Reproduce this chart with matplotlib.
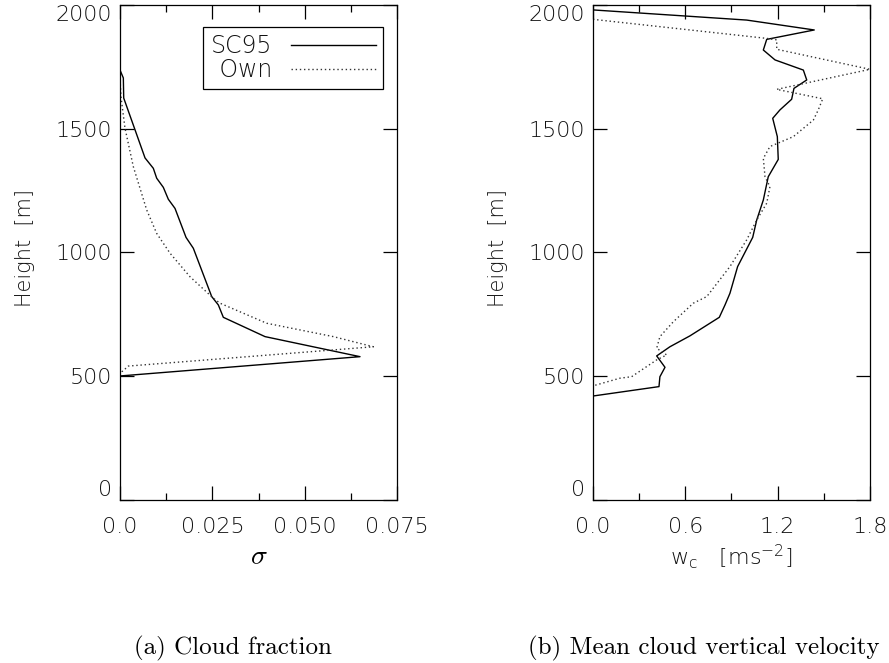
import matplotlib
matplotlib.use("Agg")
from matplotlib import pyplot as plt

# 数据 (a) cloud fraction
sig_h_sc95 = [2000, 1737, 1705, 1624, 1382, 1340, 1300, 1263, 1215, 1178, 1061, 1017,
              822, 788, 738, 660, 579, 501, 470, 0]
sig_sc95 = [0.0, 0.0, 0.0009, 0.001, 0.00677, 0.00902, 0.00993, 0.01173, 0.01308, 0.01489,
            0.01787, 0.01985, 0.02482, 0.02662, 0.02797, 0.03926, 0.06498, 0.0, 0.0, 0.0]
sig_h_own = [2000, 1700, 1624, 1502, 1347, 1172, 1077, 997, 902, 815, 795, 714, 660, 619,
             541, 518, 505, 0]
sig_own = [0.0, 0.0, 0.0003, 0.00135, 0.0036, 0.00722, 0.00993, 0.01354, 0.01895, 0.02527,
           0.02708, 0.03971, 0.05776, 0.0686, 0.00226, 0.0005, 0.0, 0.0]

# 数据 (b) mean cloud vertical velocity
w_h_sc95 = [1980, 1939, 1899, 1861, 1818, 1778, 1737, 1697, 1663, 1619, 1576, 1542, 1468,
            1376, 1306, 1212, 1131, 1061, 943, 835, 788, 738, 663, 619, 582, 536, 498, 458,
            420, 0]
w_sc95 = [0.0, 0.999, 1.438, 1.129, 1.107, 1.183, 1.367, 1.389, 1.306, 1.291, 1.215, 1.168,
          1.198, 1.204, 1.139, 1.107, 1.064, 1.038, 0.940, 0.890, 0.858, 0.821, 0.630, 0.500,
          0.414, 0.468, 0.435, 0.429, 0.0, 0.0]
w_h_own = [1942, 1865, 1859, 1821, 1740, 1659, 1621, 1576, 1535, 1468, 1428, 1380, 1306,
           1266, 1199, 1131, 1051, 943, 822, 795, 720, 660, 613, 586, 566, 498, 492, 461, 0]
w_own = [0.0, 1.129, 1.194, 1.194, 1.8, 1.194, 1.493, 1.464, 1.432, 1.302, 1.150, 1.107,
         1.118, 1.150, 1.129, 1.064, 0.999, 0.890, 0.740, 0.652, 0.522, 0.435, 0.414, 0.479,
         0.414, 0.251, 0.175, 0.0, 0.0]

sig_ticks = [0.0, 0.025, 0.050, 0.075]
sig_labels = ["0.0", "0.025", "0.050", "0.075"]
w_ticks = [0.0, 0.6, 1.2, 1.8]
w_labels = ["0.0", "0.6", "1.2", "1.8"]
h_ticks = [0, 500, 1000, 1500, 2000]

plt.rcParams["font.family"] = ["DejaVu Sans"]
plt.rcParams["font.size"] = 16
plt.rcParams["font.weight"] = 200
plt.rcParams["axes.labelweight"] = 200

txt = "#111111"
fig = plt.figure(figsize=(8.89, 6.63), dpi=100)
ax1 = fig.add_axes([0.135, 0.2459, 0.3116, 0.7466])
ax2 = fig.add_axes([0.667, 0.2459, 0.3116, 0.7466])

dot = (0, (1, 2))
ax1.plot(sig_sc95, sig_h_sc95, color="black", lw=1.0, label="SC95")
ax1.plot(sig_own, sig_h_own, color="#333333", lw=1.0, ls=dot, label=" Own")
ax2.plot(w_sc95, w_h_sc95, color="black", lw=1.0)
ax2.plot(w_own, w_h_own, color="#333333", lw=1.0, ls=dot)

for ax, ticks, labels, minor in [(ax1, sig_ticks, sig_labels, 0.0125),
                                 (ax2, w_ticks, w_labels, 0.3)]:
    ax.set_xlim(ticks[0], ticks[-1])
    ax.set_ylim(0, 2000)
    ax.set_xticks(ticks)
    ax.set_xticklabels(labels)
    ax.set_xticks([minor * i for i in range(1, 6, 2)], minor=True)
    ax.set_yticks(h_ticks)
    ax.tick_params(which="both", direction="in", top=True, right=True,
                   color="black", labelcolor=txt, width=0.9)
    ax.tick_params(which="major", length=10)
    ax.tick_params(axis="x", which="major", pad=12)
    ax.tick_params(axis="y", which="major", pad=6)
    ax.tick_params(which="minor", length=5)
    yt = ax.yaxis.get_major_ticks()
    yt[0].label1.set_va("bottom")
    yt[-1].label1.set_va("top")
    ax.set_ylabel("Height  [m]", color=txt, fontsize=15)
    ax.yaxis.set_label_coords(-0.307, 0.51)
    for s in ax.spines.values():
        s.set_linewidth(0.9)

ax1.set_xlabel(r"$\sigma$", math_fontfamily="cm", fontsize=20, labelpad=4)
ax2.set_xlabel(r"w$_{\rm c}$   [ms$^{-2}$]", color=txt, fontsize=16, labelpad=4)

leg = ax1.legend(loc="upper right", markerfirst=False, handlelength=3.6,
                 fancybox=False, framealpha=1, edgecolor="black", fontsize=17,
                 borderpad=0.3, labelspacing=0.0, handletextpad=0.8,
                 borderaxespad=0, bbox_to_anchor=(0.949, 0.9556))
leg.get_frame().set_linewidth(0.9)
for t in leg.get_texts():
    t.set_color(txt)

fig.text(0.151, 0.0226, "(a) Cloud fraction", fontfamily="cmr10", fontsize=18,
         ha="left", va="center")
fig.text(0.594, 0.0226, "(b) Mean cloud vertical velocity", fontfamily="cmr10",
         fontsize=18, ha="left", va="center")

plt.savefig("out.png", dpi=100)
